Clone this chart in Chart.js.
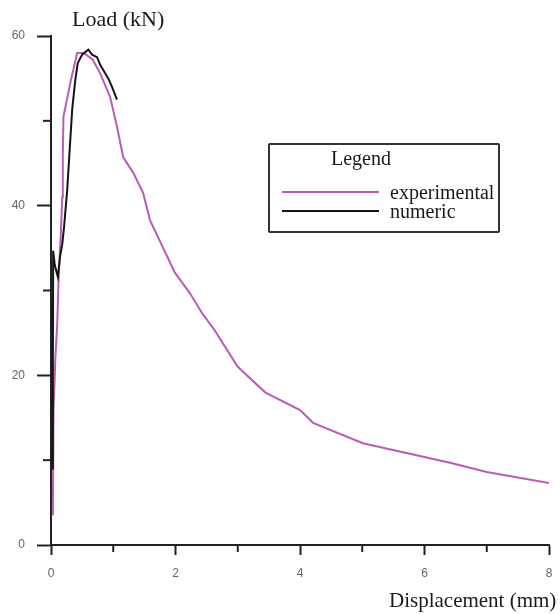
<!DOCTYPE html>
<html>
<head>
<meta charset="utf-8">
<script src="https://cdn.jsdelivr.net/npm/chart.js@4"></script>
<style>
  body { margin: 0; background: #fff; }
  #wrap { position: relative; width: 560px; height: 614px; }
  .lbl { position: absolute; font-family: "Liberation Serif", serif; font-size: 20px; color: #1a1a1a; white-space: nowrap; line-height: 1; }
  #legend { position: absolute; left: 268px; top: 143px; width: 228px; height: 86px; border: 2px solid #333; border-radius: 2px; }
  #legend .title { position: absolute; left: 61px; top: 3px; }
  #legend .item { position: absolute; left: 12px; height: 20px; }
  #legend .item span.line { position: absolute; left: 0; top: 9px; width: 97px; height: 2px; }
  #legend .item span.txt { position: absolute; left: 108px; top: 0; }
</style>
</head>
<body>
<div id="wrap">
  <canvas id="chart" width="560" height="614"></canvas>
  <div class="lbl" style="left:72px; top:8px; font-size:22px;">Load (kN)</div>
  <div class="lbl" style="left:389px; top:590px; font-size:21px;">Displacement (mm)</div>
  <div id="legend" class="lbl"></div>
</div>
<script>
const seriesNames = ['experimental', 'numeric'];
const seriesColors = ['#bb5db3', '#141414'];

// experimental curve
const expX = [0.03, 0.04, 0.07, 0.1, 0.12, 0.16, 0.18, 0.19, 0.2, 0.32, 0.42, 0.53, 0.67, 0.79, 0.95, 1.06, 1.16, 1.32, 1.48, 1.59, 1.99, 2.23, 2.43, 2.63, 3.0, 3.44, 4.0, 4.21, 5.01, 6.41, 7.0, 8.0];
const expY = [3.5, 15.7, 22, 26, 31, 37, 41, 46, 50.5, 54.8, 58, 58, 57.2, 55.6, 52.8, 49.3, 45.7, 43.9, 41.5, 38.3, 32.1, 29.7, 27.3, 25.3, 21, 18, 15.9, 14.4, 12.0, 9.7, 8.6, 7.3];

// numeric curve
const numX = [0.02, 0.03, 0.035, 0.06, 0.11, 0.145, 0.18, 0.21, 0.26, 0.3, 0.34, 0.39, 0.43, 0.5, 0.55, 0.6, 0.66, 0.74, 0.79, 0.87, 0.92, 0.98, 1.06];
const numY = [9.0, 22, 34.7, 33.0, 31.6, 34.0, 35.4, 37.5, 41.8, 46.6, 51.3, 54.8, 56.8, 57.8, 58.1, 58.4, 57.8, 57.5, 56.6, 55.6, 55.0, 54.0, 52.5];

const xTicks = [0, 2, 4, 6, 8];
const xMinor = [1, 3, 5, 7];
const yTicks = [0, 20, 40, 60];
const yMinor = [10, 30, 50];

const toPoints = (xs, ys) => xs.map((x, i) => ({ x: x, y: ys[i] }));

const minorTicks = {
    id: 'minorTicks',
    afterDraw(chart) {
        const c = chart.ctx;
        const xs = chart.scales.x;
        const ys = chart.scales.y;
        c.save();
        c.strokeStyle = '#222';
        c.lineWidth = 2;
        yMinor.forEach(v => {
            const py = ys.getPixelForValue(v);
            c.beginPath();
            c.moveTo(xs.left - 8, py);
            c.lineTo(xs.left, py);
            c.stroke();
        });
        xMinor.forEach(v => {
            const px = xs.getPixelForValue(v);
            c.beginPath();
            c.moveTo(px, ys.bottom);
            c.lineTo(px, ys.bottom + 7);
            c.stroke();
        });
        c.restore();
    }
};

const ctx = document.getElementById('chart').getContext('2d');

const chart = new Chart(ctx, {
    type: 'line',
    data: {
        datasets: [{
            label: seriesNames[0],
            data: toPoints(expX, expY),
            borderColor: seriesColors[0],
            backgroundColor: seriesColors[0],
            borderWidth: 2,
            pointRadius: 0,
            tension: 0,
            order: 1
        }, {
            label: seriesNames[1],
            data: toPoints(numX, numY),
            borderColor: seriesColors[1],
            backgroundColor: seriesColors[1],
            borderWidth: 2,
            pointRadius: 0,
            tension: 0,
            order: 0
        }]
    },
    options: {
        responsive: false,
        animation: false,
        layout: {
            padding: { left: 0, right: 11, top: 36, bottom: 0 }
        },
        plugins: {
            legend: { display: false },
            tooltip: { enabled: false }
        },
        scales: {
            x: {
                type: 'linear',
                min: 0,
                max: 8,
                afterFit(scale) {
                    scale.height = 69;
                    scale.paddingLeft = 0;
                    scale.paddingRight = 0;
                },
                afterBuildTicks(scale) { scale.ticks = xTicks.map(v => ({ value: v })); },
                grid: { drawOnChartArea: false, tickLength: 10, tickColor: '#222', tickWidth: 2 },
                border: { color: '#222', width: 2 },
                ticks: { color: '#666', padding: 11, font: { family: 'Liberation Sans', size: 12 } }
            },
            y: {
                min: 0,
                max: 60,
                afterFit(scale) { scale.width = 51; },
                afterBuildTicks(scale) { scale.ticks = yTicks.map(v => ({ value: v })); },
                grid: { drawOnChartArea: false, tickLength: 14, tickColor: '#222', tickWidth: 2 },
                border: { color: '#222', width: 2 },
                ticks: { color: '#666', padding: 12, font: { family: 'Liberation Sans', size: 12 } }
            }
        }
    },
    plugins: [minorTicks]
});

// legend built from the chart's datasets
const legend = document.getElementById('legend');
legend.innerHTML = '<div class="title">Legend</div>';
chart.data.datasets.forEach((ds, i) => {
    const item = document.createElement('div');
    item.className = 'item';
    item.style.top = (37 + i * 19) + 'px';
    item.innerHTML = '<span class="line" style="background:' + ds.borderColor + '"></span>' +
        '<span class="txt">' + ds.label + '</span>';
    legend.appendChild(item);
});
</script>
</body>
</html>
